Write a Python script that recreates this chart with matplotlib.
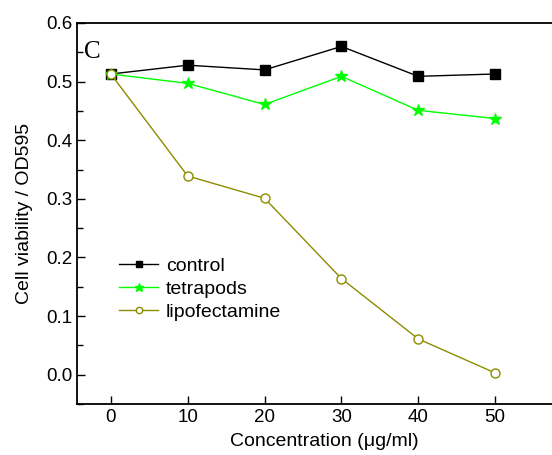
import numpy as np
import matplotlib
matplotlib.use('Agg')
import matplotlib.pyplot as plt
from matplotlib.ticker import MultipleLocator, FixedLocator, FormatStrFormatter

plt.rcParams['font.family'] = ['Liberation Sans', 'DejaVu Sans']

conc = [0, 10, 20, 30, 40, 50]
control = [0.513, 0.528, 0.520, 0.560, 0.509, 0.513]
tetrapods = [0.513, 0.497, 0.461, 0.509, 0.451, 0.437]
lipofectamine = [0.513, 0.339, 0.301, 0.164, 0.061, 0.003]

W, H = 552, 455
fig = plt.figure(figsize=(W/100, H/100), dpi=100)
# axes runs off the right edge like in the source figure
x0, x1 = 77, 572
y_top, y_bot = 23, 404
ax = fig.add_axes([x0/W, 1 - y_bot/H, (x1 - x0)/W, (y_bot - y_top)/H])

ax.plot(conc, control, '-s', color='black', lw=1, ms=6.5, label='control')
ax.plot(conc, tetrapods, '-*', color='#00ff00', lw=1, ms=9, label='tetrapods')
ax.plot(conc, lipofectamine, '-o', color='#8c8c00', lw=1, ms=6.5,
        mfc='white', mec='#8c8c00', label='lipofectamine')

ax.set_xlim(-4.4, 60)
ax.set_ylim(-0.05, 0.6)
ax.xaxis.set_major_locator(FixedLocator(conc))
ax.yaxis.set_major_locator(MultipleLocator(0.1))
ax.yaxis.set_minor_locator(MultipleLocator(0.05))
ax.yaxis.set_major_formatter(FormatStrFormatter('%.1f'))
ax.tick_params(which='both', direction='in', labelsize=13.5, width=1)
ax.tick_params(which='major', length=6)
ax.tick_params(which='minor', length=4)
ax.tick_params(axis='x', which='both', top=False)
for s in ax.spines.values():
    s.set_linewidth(1.3)

ax.set_xlabel('Concentration (\u03bcg/ml)', fontsize=14, labelpad=5)
ax.set_ylabel('Cell viability / OD595', fontsize=14, labelpad=9)
ax.text(0.014, 0.925, 'C', transform=ax.transAxes, fontsize=18,
        family='Liberation Serif', va='center')

ax.legend(loc='upper left', bbox_to_anchor=(0.085, 0.385), frameon=False,
          fontsize=14, handlelength=2.0, handletextpad=0.4, labelspacing=0.27,
          borderpad=0, borderaxespad=0, markerscale=0.7)

fig.savefig('out.png', dpi=100)
